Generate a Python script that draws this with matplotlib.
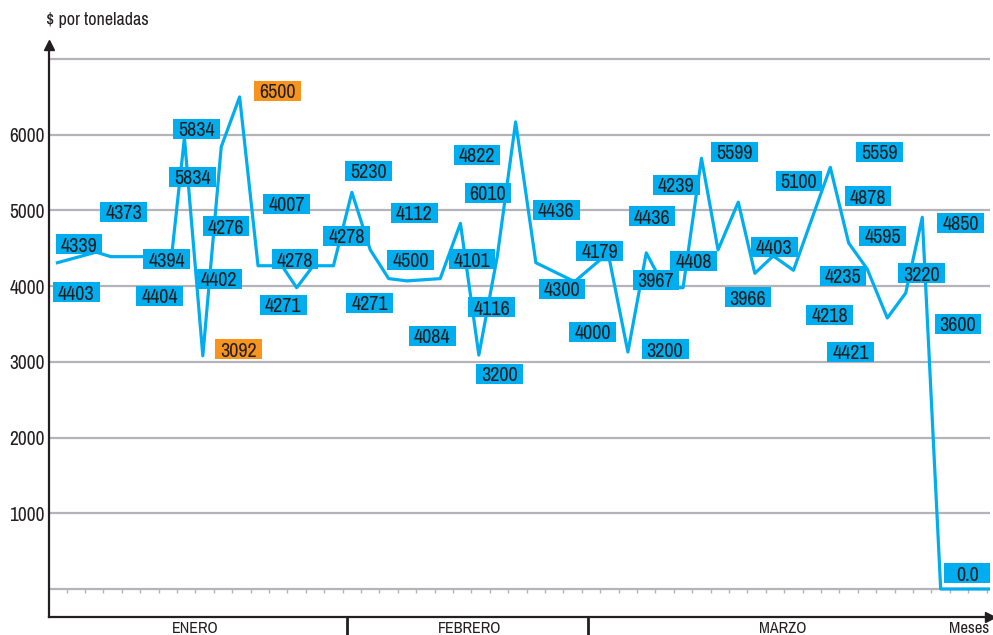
import matplotlib

matplotlib.use("Agg")
import matplotlib.pyplot as plt
import matplotlib.transforms as mtransforms
from matplotlib import font_manager
from matplotlib.patches import Rectangle

# {{{ data

# line vertices (x in tick units, y in $ per ton)
line_x = [-0.5, 1.6, 2.4, 5.7, 6.4, 7.4, 8.4, 9.4, 10.4, 11.7, 12.5, 13.4,
          14.5, 15.5, 16.5, 17.5, 18.5, 20.3, 21.4, 22.4, 23.4, 24.4, 25.5,
          27.6, 29.0, 29.5, 30.5, 31.5, 32.5, 33.5, 34.5, 35.4, 36.5, 37.4,
          38.4, 39.5, 41.5, 42.5, 43.5, 44.6, 45.6, 46.5, 47.5, 50.1]
line_y = [4310, 4450, 4390, 4390, 5960, 3080, 5840, 6500, 4270, 4270, 3980,
          4270, 4270, 5240, 4480, 4100, 4070, 4100, 4830, 3090, 4390, 6170,
          4310, 4060, 4350, 4350, 3130, 4440, 3980, 3980, 5690, 4480, 5110,
          4170, 4400, 4210, 5570, 4570, 4230, 3580, 3910, 4910, 0, 0]

# value labels, placed where the reference puts them
label_text = ["4339", "4403", "4373", "4394", "4404", "5834", "5834", "4276",
              "4402", "3092", "6500", "4007", "4278", "4271", "4278", "5230",
              "4112", "4500", "4271", "4084", "4822", "6010", "4101", "4116",
              "3200", "4436", "4300", "4179", "4000", "4436", "3967", "3200",
              "4239", "5599", "4408", "4403", "3966", "5100", "4235", "4218",
              "4421", "5559", "4878", "4595", "3220", "4850", "3600", "0.0"]
label_x = [0.67, 0.51, 3.11, 5.45, 5.07, 7.08, 6.86, 8.66, 8.28, 9.36, 11.48,
           11.97, 12.41, 11.76, 15.23, 16.38, 18.88, 18.71, 16.48, 19.86,
           22.3, 22.9, 22.03, 23.11, 23.5, 26.6, 26.92, 28.98, 28.6, 31.81,
           32.03, 32.52, 33.12, 36.27, 34.09, 38.45, 37.03, 39.8, 42.19,
           41.48, 42.62, 44.15, 43.55, 44.36, 46.48, 48.6, 48.44, 48.98]
label_y = [4557, 3923, 4980, 4359, 3871, 6077, 5443, 4795, 4095, 3170, 6579,
           5086, 4359, 3752, 4663, 5522, 4967, 4346, 3778, 3342, 5733, 5231,
           4359, 3725, 2840, 5007, 3963, 4465, 3395, 4927, 4082, 3170, 5337,
           5773, 4333, 4518, 3857, 5390, 4135, 3620, 3131, 5773, 5191, 4663,
           4174, 4835, 3501, 211]
highlight = ["3092", "6500"]

yticks = [1000, 2000, 3000, 4000, 5000, 6000]
gridlines = [0, 1000, 2000, 3000, 4000, 5000, 6000, 7000]

months = ["ENERO", "FEBRERO", "MARZO"]
month_x = [6.97, 21.92, 38.93]
month_breaks = [15.23, 28.33]
n_days = 51

# }}}

BLUE = "#00aeef"
ORANGE = "#f7941d"
INK = "#231f20"
GRID = "#b4b4b8"


def pick_font() -> font_manager.FontProperties:
    # prefer a regular narrow/condensed face, as in the reference
    cands = []
    for f in font_manager.fontManager.ttflist:
        n = f.name.lower()
        if ("narrow" in n or "condensed" in n) and f.style == "normal":
            cands.append(f)
    for f in cands:
        if f.weight in (400, "normal", "regular", "book"):
            return font_manager.FontProperties(fname=f.fname)
    if cands:
        return font_manager.FontProperties(fname=cands[0].fname)
    return font_manager.FontProperties(family=["Liberation Sans", "DejaVu Sans"])


fp = pick_font()
scale = 1.0 if fp.get_file() is not None else 0.84


def font(size: float) -> font_manager.FontProperties:
    p = fp.copy()
    p.set_size(size * scale)
    return p


fig = plt.figure(figsize=(9.93, 6.35), dpi=100)
ax = fig.add_axes([49 / 993, 18 / 635, 941 / 993, 572 / 635])
ax.set_xlim(-0.96, 50.18)
ax.set_ylim(-370, 7186)

for g in gridlines:
    ax.axhline(g, color=GRID, lw=1.6, zorder=0)
ax.vlines(range(n_days), -55, 0, color=GRID, lw=1.0, zorder=0)

ax.plot(line_x, line_y, color=BLUE, lw=2.3, zorder=2)

w, h = 2.55, 264
for t, x, y in zip(label_text, label_x, label_y):
    fc = ORANGE if t in highlight else BLUE
    ax.add_patch(Rectangle((x - w / 2, y - h / 2), w, h, fc=fc, ec="none", zorder=3))
    ax.text(x, y, t, ha="center", va="center_baseline", fontproperties=font(14.5),
            color=INK, zorder=4)

# axes and arrows
for side in ("top", "right"):
    ax.spines[side].set_visible(False)
for side in ("left", "bottom"):
    ax.spines[side].set_color(INK)
    ax.spines[side].set_linewidth(1.6)
ax.plot(1.0, 0, ">", color=INK, ms=7, transform=ax.transAxes, clip_on=False)
ax.plot(0, 1.0, "^", color=INK, ms=7, transform=ax.transAxes, clip_on=False)

ax.set_yticks(yticks)
ax.set_yticklabels([str(v) for v in yticks], fontproperties=font(14))
ax.tick_params(axis="y", length=0, pad=3, labelcolor=INK)

ax.set_xticks(month_breaks)
ax.tick_params(axis="x", length=13, width=2, color=INK, labelbottom=False)

trans = mtransforms.blended_transform_factory(ax.transData, ax.transAxes)
for m, x in zip(months, month_x):
    ax.text(x, -0.0285, m, transform=trans, ha="center", va="baseline",
            fontproperties=font(11.5), color=INK)
ax.text(50.15, -0.0285, "Meses", transform=trans, ha="right", va="baseline",
        fontproperties=font(12), color=INK)

fig.text(46 / 993, 1 - 20 / 635, "$ por toneladas", ha="left", va="center",
         fontproperties=font(13), color=INK)

fig.savefig("out.png", dpi=100)
